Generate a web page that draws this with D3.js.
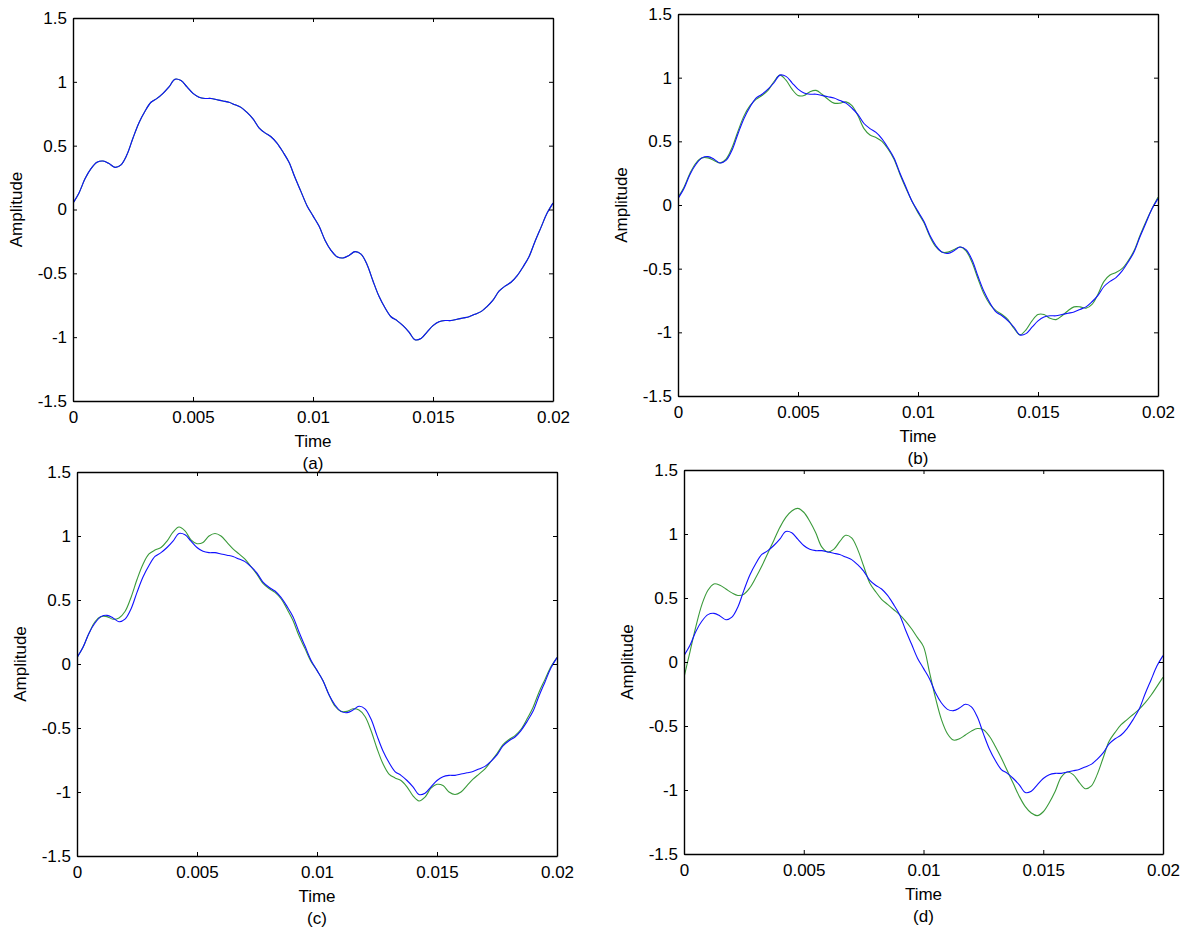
<!DOCTYPE html>
<html>
<head>
<meta charset="utf-8">
<script src="https://cdn.jsdelivr.net/npm/d3@7"></script>
<style>
body { margin: 0; background: #fff; }
svg { display: block; font-family: Arial, "Liberation Sans", sans-serif; }
</style>
</head>
<body>
<div id="chart"></div>
<script>
var timeTicks = [0, 0.005, 0.01, 0.015, 0.02];
var ampTicks = [-1.5, -1, -0.5, 0, 0.5, 1, 1.5];

// sample times in ms (0.25 ms step)
var timeMs = [0, 0.25, 0.5, 0.75, 1, 1.25, 1.5, 1.75, 2, 2.25, 2.5, 2.75, 3, 3.25, 3.5, 3.75, 4, 4.25, 4.5, 4.75,
  5, 5.25, 5.5, 5.75, 6, 6.25, 6.5, 6.75, 7, 7.25, 7.5, 7.75, 8, 8.25, 8.5, 8.75, 9, 9.25, 9.5, 9.75,
  10, 10.25, 10.5, 10.75, 11, 11.25, 11.5, 11.75, 12, 12.25, 12.5, 12.75, 13, 13.25, 13.5, 13.75, 14, 14.25, 14.5, 14.75,
  15, 15.25, 15.5, 15.75, 16, 16.25, 16.5, 16.75, 17, 17.25, 17.5, 17.75, 18, 18.25, 18.5, 18.75, 19, 19.25, 19.5, 19.75, 20];

// reference signal (blue), same in every panel
var refSignal = [0.05, 0.13, 0.24, 0.32, 0.37, 0.38, 0.36, 0.33, 0.35, 0.43, 0.56, 0.68, 0.77, 0.84, 0.87, 0.91, 0.96, 1.02, 1.01, 0.96,
  0.91, 0.88, 0.87, 0.87, 0.86, 0.85, 0.84, 0.82, 0.80, 0.76, 0.71, 0.64, 0.60, 0.57, 0.52, 0.45, 0.37, 0.25, 0.14, 0.03,
  -0.05, -0.13, -0.24, -0.32, -0.37, -0.38, -0.36, -0.33, -0.35, -0.43, -0.56, -0.68, -0.77, -0.84, -0.87, -0.91, -0.96, -1.02, -1.01, -0.96,
  -0.91, -0.88, -0.87, -0.87, -0.86, -0.85, -0.84, -0.82, -0.80, -0.76, -0.71, -0.64, -0.60, -0.57, -0.52, -0.45, -0.37, -0.25, -0.14, -0.03, 0.05];

// reconstructed signals (green), one per panel
var outA = [0.05, 0.13, 0.24, 0.32, 0.37, 0.38, 0.36, 0.33, 0.35, 0.43, 0.56, 0.68, 0.77, 0.84, 0.87, 0.91, 0.96, 1.02, 1.01, 0.96,
  0.91, 0.88, 0.87, 0.87, 0.86, 0.85, 0.84, 0.82, 0.80, 0.76, 0.71, 0.64, 0.60, 0.57, 0.52, 0.45, 0.37, 0.25, 0.14, 0.03,
  -0.05, -0.13, -0.24, -0.32, -0.37, -0.38, -0.36, -0.33, -0.35, -0.43, -0.56, -0.68, -0.77, -0.84, -0.87, -0.91, -0.96, -1.02, -1.01, -0.96,
  -0.91, -0.88, -0.87, -0.87, -0.86, -0.85, -0.84, -0.82, -0.80, -0.76, -0.71, -0.64, -0.60, -0.57, -0.52, -0.45, -0.37, -0.25, -0.14, -0.03, 0.05];
var outB = [0.06, 0.14, 0.25, 0.33, 0.37, 0.37, 0.35, 0.33, 0.36, 0.45, 0.58, 0.70, 0.78, 0.83, 0.86, 0.90, 0.97, 1.02, 0.98, 0.91,
  0.86, 0.86, 0.89, 0.90, 0.87, 0.83, 0.80, 0.80, 0.81, 0.78, 0.70, 0.60, 0.55, 0.53, 0.50, 0.44, 0.36, 0.24, 0.13, 0.03,
  -0.06, -0.14, -0.25, -0.33, -0.37, -0.37, -0.35, -0.33, -0.36, -0.45, -0.58, -0.70, -0.78, -0.83, -0.86, -0.90, -0.97, -1.02, -0.98, -0.91,
  -0.86, -0.86, -0.89, -0.90, -0.87, -0.83, -0.80, -0.80, -0.81, -0.78, -0.70, -0.60, -0.55, -0.53, -0.50, -0.44, -0.36, -0.24, -0.13, -0.03, 0.06];
var outC = [0.05, 0.13, 0.24, 0.33, 0.37, 0.37, 0.35, 0.36, 0.41, 0.52, 0.66, 0.78, 0.86, 0.89, 0.91, 0.96, 1.03, 1.07, 1.04, 0.97,
  0.94, 0.95, 1.00, 1.02, 1.00, 0.95, 0.90, 0.86, 0.82, 0.76, 0.70, 0.63, 0.59, 0.56, 0.51, 0.43, 0.34, 0.22, 0.12, 0.02,
  -0.05, -0.13, -0.24, -0.33, -0.37, -0.37, -0.35, -0.36, -0.41, -0.52, -0.66, -0.78, -0.86, -0.89, -0.91, -0.96, -1.03, -1.07, -1.04, -0.97,
  -0.94, -0.95, -1.00, -1.02, -1.00, -0.95, -0.90, -0.86, -0.82, -0.76, -0.70, -0.63, -0.59, -0.56, -0.51, -0.43, -0.34, -0.22, -0.12, -0.02, 0.05];
var outD = [-0.12, 0.08, 0.28, 0.45, 0.56, 0.61, 0.60, 0.57, 0.54, 0.52, 0.53, 0.58, 0.66, 0.75, 0.85, 0.95, 1.05, 1.13, 1.18, 1.20,
  1.17, 1.10, 1.01, 0.90, 0.86, 0.88, 0.94, 0.99, 0.97, 0.88, 0.75, 0.62, 0.55, 0.49, 0.45, 0.41, 0.37, 0.32, 0.26, 0.19,
  0.12, -0.08, -0.28, -0.45, -0.56, -0.61, -0.60, -0.57, -0.54, -0.52, -0.53, -0.58, -0.66, -0.75, -0.85, -0.95, -1.05, -1.13, -1.18, -1.20,
  -1.17, -1.10, -1.01, -0.90, -0.86, -0.88, -0.94, -0.99, -0.97, -0.88, -0.75, -0.62, -0.55, -0.49, -0.45, -0.41, -0.37, -0.32, -0.26, -0.19, -0.12];

var panelTags = ["(a)", "(b)", "(c)", "(d)"];
var panelOutputs = [outA, outB, outC, outD];

// plot boxes: [left, top, right, bottom]
var boxes = [[73, 18, 553, 401], [678, 14, 1158, 396], [77, 472, 557, 856], [684, 470, 1163, 854]];

var svg = d3.select("#chart").append("svg")
    .attr("width", 1189)
    .attr("height", 929);

for (var p = 0; p < 4; p++) {
    drawPanel(boxes[p], panelOutputs[p], panelTags[p]);
}

function drawPanel(box, output, tag) {
    var x = d3.scaleLinear().domain([0, 0.02]).range([box[0], box[2]]);
    var y = d3.scaleLinear().domain([-1.5, 1.5]).range([box[3], box[1]]);
    var g = svg.append("g");

    var line = d3.line()
        .x(function(d) { return x(d[0] / 1000); })
        .y(function(d) { return y(d[1]); })
        .curve(d3.curveCatmullRom);

    var clip = "clip" + tag.charAt(1);
    g.append("clipPath").attr("id", clip)
        .append("rect")
        .attr("x", box[0]).attr("y", box[1])
        .attr("width", box[2] - box[0]).attr("height", box[3] - box[1]);

    g.append("path")
        .datum(d3.zip(timeMs, output))
        .attr("clip-path", "url(#" + clip + ")")
        .attr("fill", "none")
        .attr("stroke", "#3a9a3a")
        .attr("stroke-width", 1.1)
        .attr("d", line);

    g.append("path")
        .datum(d3.zip(timeMs, refSignal))
        .attr("clip-path", "url(#" + clip + ")")
        .attr("fill", "none")
        .attr("stroke", "#1010ff")
        .attr("stroke-width", 1.1)
        .attr("d", line);

    // axes, matlab style: ticks point inward on all four sides
    var bottom = g.append("g").attr("transform", "translate(0," + box[3] + ")")
        .call(d3.axisBottom(x).tickValues(timeTicks).tickSizeInner(-4).tickSizeOuter(0).tickPadding(10)
            .tickFormat(function(d) { return d === 0 ? "0" : String(d); }));
    var top = g.append("g").attr("transform", "translate(0," + box[1] + ")")
        .call(d3.axisTop(x).tickValues(timeTicks).tickSizeInner(-4).tickSizeOuter(0).tickFormat(""));
    var left = g.append("g").attr("transform", "translate(" + box[0] + ",0)")
        .call(d3.axisLeft(y).tickValues(ampTicks).tickSizeInner(-4).tickSizeOuter(0).tickPadding(6)
            .tickFormat(function(d) { return String(d); }));
    var right = g.append("g").attr("transform", "translate(" + box[2] + ",0)")
        .call(d3.axisRight(y).tickValues(ampTicks).tickSizeInner(-4).tickSizeOuter(0).tickFormat(""));

    [bottom, top, left, right].forEach(function(a) {
        a.selectAll("path.domain").attr("stroke", "#000").attr("stroke-width", 1.4);
        a.selectAll("line").attr("stroke", "#000").attr("stroke-width", 1);
        a.selectAll("text").attr("font-size", 17).attr("fill", "#000").attr("font-family", null);
    });

    var midX = (box[0] + box[2]) / 2;
    var midY = (box[1] + box[3]) / 2;

    g.append("text")
        .attr("x", midX).attr("y", box[3] + 46)
        .attr("text-anchor", "middle")
        .attr("font-size", 17)
        .text("Time");

    g.append("text")
        .attr("x", midX).attr("y", box[3] + 68)
        .attr("text-anchor", "middle")
        .attr("font-size", 17)
        .text(tag);

    g.append("text")
        .attr("transform", "translate(" + (box[0] - 51) + "," + midY + ") rotate(-90)")
        .attr("text-anchor", "middle")
        .attr("font-size", 17)
        .text("Amplitude");
}
</script>
</body>
</html>
